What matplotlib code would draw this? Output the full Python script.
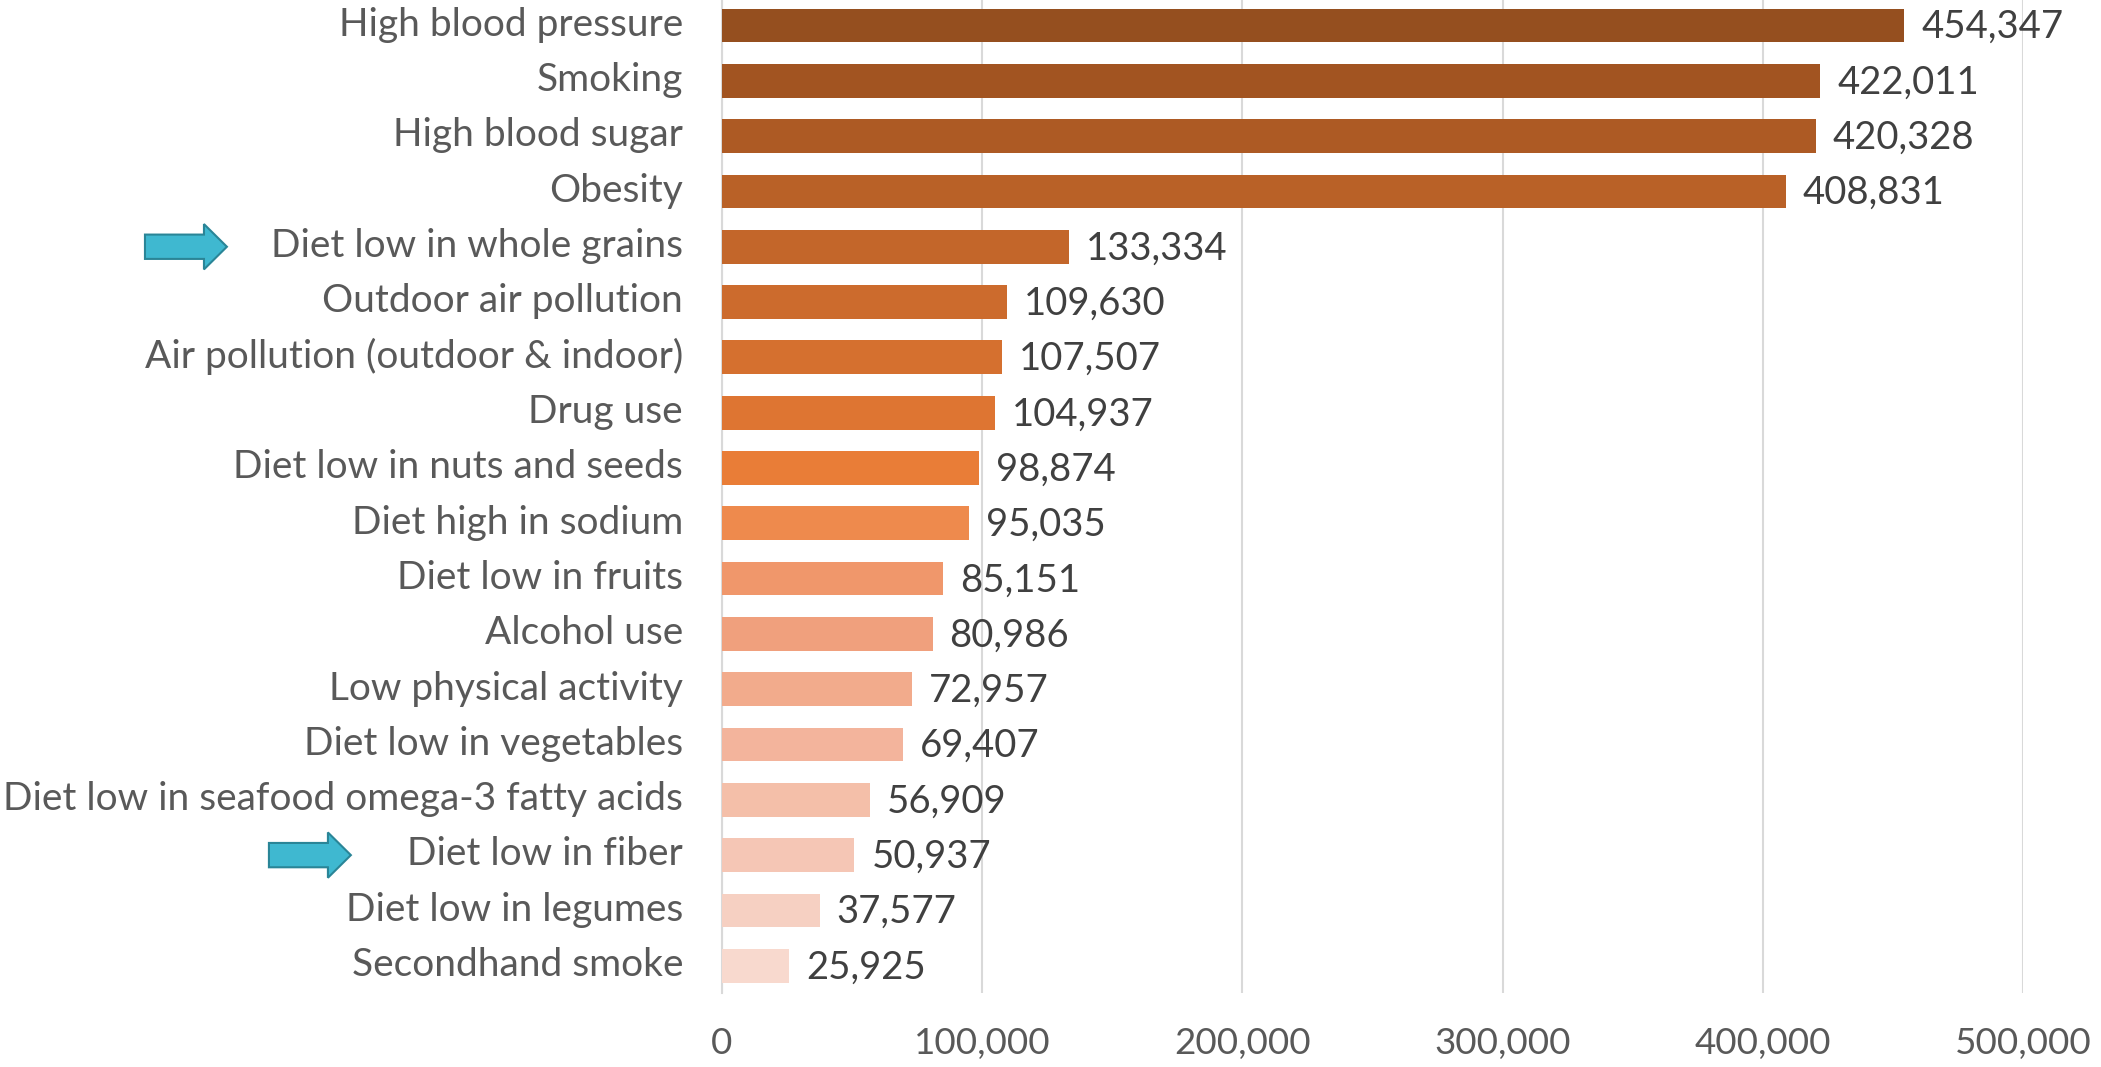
import matplotlib
matplotlib.use("Agg")
import matplotlib.pyplot as plt
from matplotlib.patches import Polygon
from matplotlib.transforms import blended_transform_factory, ScaledTranslation

# Risikofaktoren und zugeordnete Todesfälle
risk_factors = [
    "High blood pressure", "Smoking", "High blood sugar", "Obesity",
    "Diet low in whole grains", "Outdoor air pollution",
    "Air pollution (outdoor & indoor)", "Drug use",
    "Diet low in nuts and seeds", "Diet high in sodium",
    "Diet low in fruits", "Alcohol use", "Low physical activity",
    "Diet low in vegetables", "Diet low in seafood omega-3 fatty acids",
    "Diet low in fiber", "Diet low in legumes", "Secondhand smoke",
]
deaths = [
    454347, 422011, 420328, 408831, 133334, 109630, 107507, 104937,
    98874, 95035, 85151, 80986, 72957, 69407, 56909, 50937, 37577, 25925,
]
bar_colors = [
    "#954F1F", "#A25421", "#AD5A24", "#B96127", "#C3662A", "#CC6B2D",
    "#D5702F", "#DE7532", "#E97D37", "#EE8A4D", "#F0976B", "#F0A07D",
    "#F2AB8C", "#F3B49C", "#F4BFA9", "#F5C6B5", "#F6D0C2", "#F8D9CE",
]
x_ticks = [0, 100000, 200000, 300000, 400000, 500000]
# Kategorien mit Pfeil markieren (Name, linker Rand des Pfeils in Bildbreite)
highlighted = [("Diet low in whole grains", 0.069), ("Diet low in fiber", 0.128)]

plt.rcParams["font.family"] = ["Lato", "DejaVu Sans"]

fig = plt.figure(figsize=(21.01, 10.67), dpi=100)
ax = fig.add_axes([0.3436, 0.069, 0.6193, 0.933])

ypos = list(range(len(risk_factors)))
ax.barh(ypos, deaths, height=0.61, color=bar_colors, zorder=3)
ax.set_ylim(len(risk_factors) - 0.5, -0.5)
ax.set_xlim(0, 500000)

ax.set_yticks(ypos)
ax.set_yticklabels(risk_factors, fontsize=28, color="#595959")
ax.set_xticks(x_ticks)
ax.set_xticklabels([f"{t:,}" for t in x_ticks], fontsize=26.5, color="#595959")
ax.tick_params(axis="y", length=0, pad=28)
ax.tick_params(axis="x", length=0, pad=24)

# Beschriftungen links etwas nach oben schieben
shift_up = ScaledTranslation(0, 3 / 72, fig.dpi_scale_trans)
for lbl in ax.get_yticklabels():
    lbl.set_transform(lbl.get_transform() + shift_up)

ax.grid(axis="x", color="#D9D9D9", linewidth=1.5, zorder=0)
for side in ["top", "right", "bottom"]:
    ax.spines[side].set_visible(False)
ax.spines["left"].set_color("#D9D9D9")
ax.spines["left"].set_linewidth(1.5)

for y, v in zip(ypos, deaths):
    ax.text(v + 6500, y + 0.03, f"{v:,}", va="center", ha="left",
            fontsize=27.5, color="#404040")

# Pfeile neben den hervorgehobenen Kategorien
trans = blended_transform_factory(fig.transFigure, ax.transData)
arrow_len = 0.039
for name, x0 in highlighted:
    y = risk_factors.index(name)
    xs = x0 + arrow_len * 0.72
    pts = [
        (x0, y - 0.22), (xs, y - 0.22), (xs, y - 0.41), (x0 + arrow_len, y),
        (xs, y + 0.41), (xs, y + 0.22), (x0, y + 0.22),
    ]
    arrow = Polygon(pts, closed=True, transform=trans, facecolor="#3FB8D0",
                    edgecolor="#2A8597", linewidth=1.5, clip_on=False, zorder=5)
    fig.add_artist(arrow)

fig.savefig("out.png", dpi=100)
